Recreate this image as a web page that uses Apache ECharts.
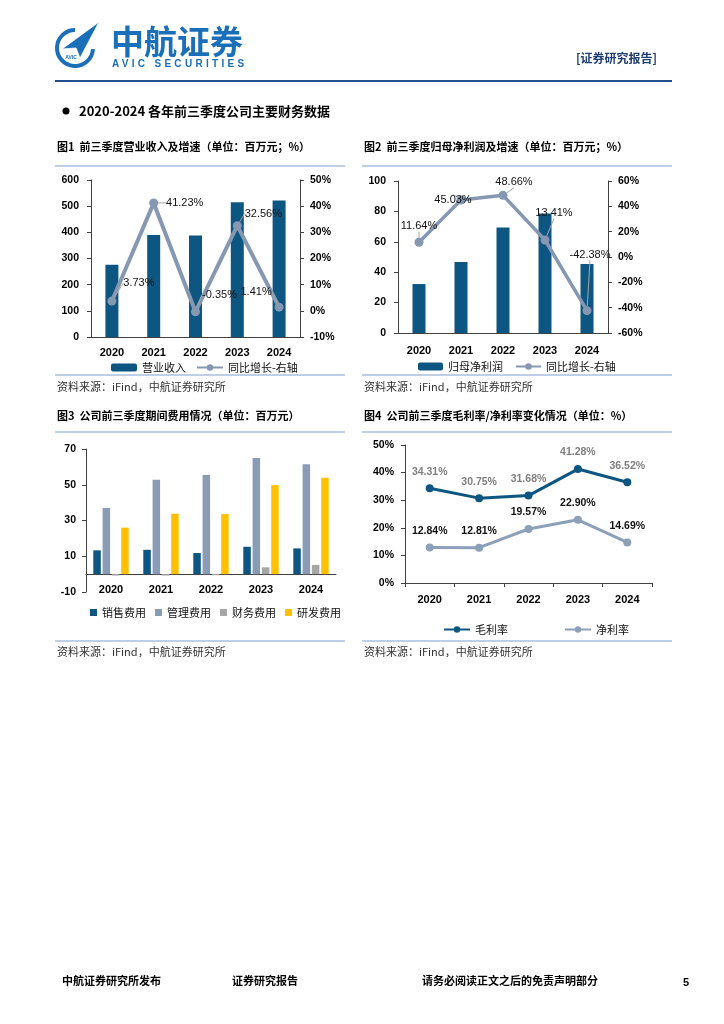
<!DOCTYPE html>
<html><head><meta charset="utf-8">
<script src="https://cdn.jsdelivr.net/npm/echarts@6.0.0/dist/echarts.min.js"></script>
<style>
html,body{margin:0;padding:0;background:#fff;}
#page{position:relative;width:724px;height:1024px;}
#chart{position:absolute;left:0;top:0;width:724px;height:1024px;}
#avic{position:absolute;left:112px;top:58px;font:bold 10px 'Liberation Sans',Arial,sans-serif;letter-spacing:3.3px;color:#1b6fb9;white-space:nowrap;}
</style></head>
<body><div id="page"><div id="chart"></div><div id="avic">AVIC SECURITIES</div></div>
<script>
// ---------- data ----------
const years = ['2020', '2021', '2022', '2023', '2024'];
const revenue = [275.8, 389.5, 388.1, 514.5, 521.7];
const revenueYoY = [3.73, 41.23, -0.35, 32.56, 1.41];
const netProfit = [32.2, 46.7, 69.4, 78.7, 45.4];
const netProfitYoY = [11.64, 45.03, 48.66, 13.41, -42.38];
const sellingExp = [13.3, 13.6, 11.8, 15.3, 14.4];
const adminExp = [37.0, 52.8, 55.4, 65.0, 61.4];
const financeExp = [-0.8, -0.8, -0.6, 3.8, 5.1];
const rdExp = [26.0, 33.8, 33.6, 49.8, 53.9];
const grossMargin = [34.31, 30.75, 31.68, 41.28, 36.52];
const netMargin = [12.84, 12.81, 19.57, 22.90, 14.69];
const expenseTicks = [-10, 10, 30, 50, 70];

// ---------- styles ----------
const BAR = '#0d5682';
const LINE = '#8597b1';
const AXIS = '#404040';
const CJK = "'Noto Sans CJK SC', sans-serif";
const LAT = "'Liberation Sans', Arial, sans-serif";
const SEP = '#a9bedc';
const revLabelOffset = [[27, -18], [31, 0], [24, -17], [26, -12], [-23, -15]];
const npLabelOffset = [[0, -16], [-8, 0], [11, -13], [9, -27], [3, -56]];

const pct = p => p.value.toFixed(2) + '%';
const axisBase = {
  axisLine: { show: true, lineStyle: { color: AXIS, width: 1 } },
  axisTick: { show: true, length: 4, lineStyle: { color: AXIS } },
  splitLine: { show: false },
  axisLabel: { color: '#000', fontWeight: 'bold', fontSize: 10.5, fontFamily: LAT }
};
function yAx(o) { return Object.assign({}, JSON.parse(JSON.stringify(axisBase)), o); }
function xAx(grid, o) {
  return Object.assign({
    type: 'category', gridIndex: grid, data: years,
    axisLine: { show: true, onZero: true, lineStyle: { color: AXIS } },
    axisTick: { show: false },
    axisLabel: { color: '#000', fontWeight: 'bold', fontSize: 11, fontFamily: LAT, margin: 10 }
  }, o || {});
}
const legendText = { fontSize: 11, fontFamily: CJK, color: '#111' };

// ---------- page chrome ----------
function txt(t, x, y, font, fill, align) {
  return { type: 'text', silent: true, style: { text: t, x: x, y: y, font: font, fill: fill || '#000', textAlign: align || 'left', textVerticalAlign: 'middle' } };
}
function hline(x1, x2, y, c, w) {
  return { type: 'line', silent: true, shape: { x1: x1, y1: y, x2: x2, y2: y }, style: { stroke: c, lineWidth: w } };
}
const titleFont = "bold 11px " + CJK;
const srcFont = "11px " + CJK;
const graphics = [
  // logo
  { type: 'arc', silent: true, shape: { cx: 75, cy: 48, r: 18, startAngle: Math.PI * 0.02, endAngle: Math.PI * 1.5, clockwise: true }, style: { stroke: '#1b6fb9', lineWidth: 4, fill: null } },
  { type: 'polygon', silent: true, shape: { points: [[62, 49], [99, 22], [80, 58], [76, 48]] }, style: { fill: '#1b6fb9', stroke: '#fff', lineWidth: 0.8 } },
  txt('AVIC', 71, 58, "bold 5px " + LAT, '#1b6fb9', 'center'),
  txt('中航证券', 111, 41, "bold 33px " + CJK, '#1b6fb9'),
  txt('[证券研究报告]', 657, 58, "bold 12px " + CJK, '#1f3f73', 'right'),
  hline(55, 672, 81, '#244f8f', 2),
  { type: 'circle', silent: true, shape: { cx: 66, cy: 111, r: 3.5 }, style: { fill: '#000' } },
  txt('2020-2024 各年前三季度公司主要财务数据', 79, 111, "bold 13px " + CJK, '#000'),
  txt('图1  前三季度营业收入及增速（单位：百万元；%）', 57, 147, titleFont),
  txt('图2  前三季度归母净利润及增速（单位：百万元；%）', 364, 147, titleFont),
  hline(55, 345, 166, SEP, 1.5), hline(362, 672, 166, SEP, 1.5),
  hline(55, 345, 375, SEP, 1.5), hline(362, 672, 375, SEP, 1.5),
  txt('资料来源：iFind，中航证券研究所', 57, 387, srcFont, '#333'),
  txt('资料来源：iFind，中航证券研究所', 364, 387, srcFont, '#333'),
  txt('图3  公司前三季度期间费用情况（单位：百万元）', 57, 416, titleFont),
  txt('图4  公司前三季度毛利率/净利率变化情况（单位：%）', 364, 416, titleFont),
  hline(55, 345, 432, SEP, 1.5), hline(362, 672, 432, SEP, 1.5),
  hline(55, 345, 641, SEP, 1.5), hline(362, 672, 641, SEP, 1.5),
  txt('资料来源：iFind，中航证券研究所', 57, 652, srcFont, '#333'),
  txt('资料来源：iFind，中航证券研究所', 364, 652, srcFont, '#333'),
  txt('中航证券研究所发布', 62, 981, titleFont),
  txt('证券研究报告', 232, 981, titleFont),
  txt('请务必阅读正文之后的免责声明部分', 422, 981, titleFont),
  txt('5', 686, 983, "bold 11px " + LAT, '#000', 'center')
];

const option = {
  animation: false,
  backgroundColor: '#fff',
  graphic: graphics,
  grid: [
    { left: 91, right: 424, top: 180, bottom: 687 },
    { left: 398, right: 116, top: 181, bottom: 691 },
    { left: 86, right: 388, top: 449, bottom: 432 },
    { left: 405, right: 72, top: 445, bottom: 441 }
  ],
  xAxis: [
    xAx(0),
    xAx(1, { axisLabel: { color: '#000', fontWeight: 'bold', fontSize: 11, fontFamily: LAT, margin: 12 } }),
    xAx(2, { axisLabel: { color: '#000', fontWeight: 'bold', fontSize: 11, fontFamily: LAT, margin: -8 } }),
    xAx(3, { axisTick: { show: true, length: 4, lineStyle: { color: AXIS } }, axisLabel: { color: '#000', fontWeight: 'bold', fontSize: 11, fontFamily: LAT, margin: 11 } })
  ],
  yAxis: [
    yAx({ type: 'value', gridIndex: 0, min: 0, max: 600, interval: 100, axisLabel: Object.assign({}, axisBase.axisLabel, { margin: 12 }) }),
    yAx({ type: 'value', gridIndex: 0, position: 'right', min: -10, max: 50, interval: 10, axisLabel: Object.assign({}, axisBase.axisLabel, { margin: 10, formatter: '{value}%' }) }),
    yAx({ type: 'value', gridIndex: 1, min: 0, max: 100, interval: 20, axisLabel: Object.assign({}, axisBase.axisLabel, { margin: 12 }) }),
    yAx({ type: 'value', gridIndex: 1, position: 'right', min: -60, max: 60, interval: 20, axisLabel: Object.assign({}, axisBase.axisLabel, { margin: 10, formatter: '{value}%' }) }),
    yAx({ type: 'value', gridIndex: 2, min: -10, max: 70,
      axisTick: { show: true, length: 4, lineStyle: { color: AXIS }, customValues: expenseTicks },
      axisLabel: Object.assign({}, axisBase.axisLabel, { margin: 10, customValues: expenseTicks }) }),
    yAx({ type: 'value', gridIndex: 3, min: 0, max: 50, interval: 10, axisLabel: Object.assign({}, axisBase.axisLabel, { margin: 11, formatter: '{value}%' }) })
  ],
  legend: [
    { left: 106, top: 357, itemWidth: 26, itemHeight: 8, itemGap: 10, textStyle: legendText, data: ['营业收入', '同比增长-右轴'] },
    { left: 413, top: 356, itemWidth: 25, itemHeight: 8, itemGap: 12, textStyle: legendText, data: ['归母净利润', { name: '同比增长-右轴 ' }] },
    { left: 85, top: 602, icon: 'rect', itemWidth: 7, itemHeight: 7, itemGap: 9, textStyle: legendText, data: ['销售费用', '管理费用', '财务费用', '研发费用'] },
    { left: 438, top: 619, itemWidth: 26, itemHeight: 8, itemGap: 56, textStyle: legendText, data: ['毛利率', '净利率'] }
  ],
  series: [
    { type: 'bar', name: '营业收入', xAxisIndex: 0, yAxisIndex: 0, data: revenue, barWidth: 13, itemStyle: { color: BAR } },
    { type: 'line', name: '同比增长-右轴', xAxisIndex: 0, yAxisIndex: 1, data: revenueYoY, symbol: 'circle', symbolSize: 9,
      lineStyle: { width: 4, color: LINE }, itemStyle: { color: LINE },
      label: { show: true, position: 'inside', formatter: pct, color: '#111', fontSize: 11, fontFamily: LAT },
      labelLayout: p => ({ dx: revLabelOffset[p.dataIndex][0], dy: revLabelOffset[p.dataIndex][1] }),
      labelLine: { show: true, lineStyle: { color: '#a6a6a6', width: 1 } } },
    { type: 'bar', name: '归母净利润', xAxisIndex: 1, yAxisIndex: 2, data: netProfit, barWidth: 13, itemStyle: { color: BAR } },
    { type: 'line', name: '同比增长-右轴 ', xAxisIndex: 1, yAxisIndex: 3, data: netProfitYoY, symbol: 'circle', symbolSize: 9,
      lineStyle: { width: 3.5, color: LINE }, itemStyle: { color: LINE },
      label: { show: true, position: 'inside', formatter: pct, color: '#111', fontSize: 11, fontFamily: LAT },
      labelLayout: p => ({ dx: npLabelOffset[p.dataIndex][0], dy: npLabelOffset[p.dataIndex][1] }),
      labelLine: { show: true, lineStyle: { color: '#a6a6a6', width: 1 } } },
    { type: 'bar', name: '销售费用', xAxisIndex: 2, yAxisIndex: 4, data: sellingExp, barWidth: 7.5, barGap: '24%', itemStyle: { color: BAR } },
    { type: 'bar', name: '管理费用', xAxisIndex: 2, yAxisIndex: 4, data: adminExp, barWidth: 7.5, barGap: '24%', itemStyle: { color: '#8a9bb5' } },
    { type: 'bar', name: '财务费用', xAxisIndex: 2, yAxisIndex: 4, data: financeExp, barWidth: 7.5, barGap: '24%', itemStyle: { color: '#a6a6a6' } },
    { type: 'bar', name: '研发费用', xAxisIndex: 2, yAxisIndex: 4, data: rdExp, barWidth: 7.5, barGap: '24%', itemStyle: { color: '#ffc000' } },
    { type: 'line', name: '毛利率', xAxisIndex: 3, yAxisIndex: 5, data: grossMargin, symbol: 'circle', symbolSize: 8,
      lineStyle: { width: 3, color: BAR }, itemStyle: { color: BAR },
      label: { show: true, position: 'top', distance: 7, formatter: pct, color: '#7f7f7f', fontWeight: 'bold', fontSize: 10.5, fontFamily: LAT } },
    { type: 'line', name: '净利率', xAxisIndex: 3, yAxisIndex: 5, data: netMargin, symbol: 'circle', symbolSize: 8,
      lineStyle: { width: 3, color: '#8da0b9' }, itemStyle: { color: '#8da0b9' },
      label: { show: true, position: 'top', distance: 7, formatter: pct, color: '#111', fontWeight: 'bold', fontSize: 10.5, fontFamily: LAT } }
  ]
};
const chart = echarts.init(document.getElementById('chart'), null, { renderer: 'canvas' });
chart.setOption(option);
</script>
</body></html>
